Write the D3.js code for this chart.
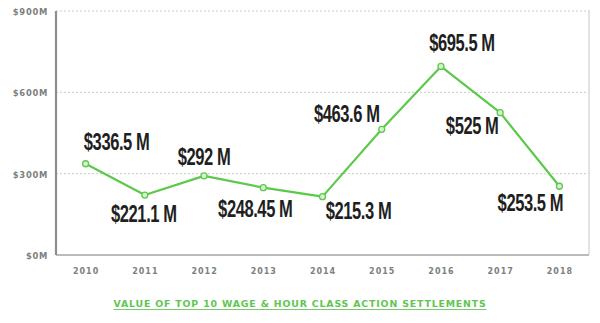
<!DOCTYPE html>
<html>
<head>
<meta charset="utf-8">
<script src="https://cdn.jsdelivr.net/npm/d3@7/dist/d3.min.js"></script>
<style>
  html, body { margin: 0; padding: 0; background: #ffffff; }
  svg { display: block; }
</style>
</head>
<body>
<script>
// Settlement values by year, in millions of dollars
const years = ["2010", "2011", "2012", "2013", "2014", "2015", "2016", "2017", "2018"];
const values = [336.5, 221.1, 292, 248.45, 215.3, 463.6, 695.5, 525, 253.5];
const valueLabels = ["$336.5 M", "$221.1 M", "$292 M", "$248.45 M", "$215.3 M", "$463.6 M", "$695.5 M", "$525 M", "$253.5 M"];
const yTicks = [0, 300, 600, 900];
const yTickLabels = ["$0M", "$300M", "$600M", "$900M"];
const title = "VALUE OF TOP 10 WAGE & HOUR CLASS ACTION SETTLEMENTS";

// Where each value label sits relative to its point: [dx of label centre, dy of baseline]
const labelPlacement = [
  [31, -14], [-1, 27], [0, -11], [-8, 29], [36, 22], [-35, -7], [21, -15], [-28, 21], [-29, 25]
];

const W = 600, H = 323;
const margin = { top: 11, right: 11, bottom: 68, left: 56 };

const svg = d3.select("body").append("svg")
  .attr("width", W).attr("height", H);

const x = d3.scalePoint()
  .domain(years)
  .range([margin.left, W - margin.right])
  .padding(0.5);

const y = d3.scaleLinear()
  .domain([0, 900])
  .range([H - margin.bottom, margin.top]);

const green = "#5cc94a";
const axisGrey = "#8c8f8f";
const labelFont = "'DejaVu Sans', sans-serif";

// Dotted horizontal gridlines
svg.append("g")
  .selectAll("line")
  .data(yTicks.filter(d => d > 0))
  .join("line")
  .attr("x1", margin.left)
  .attr("x2", W - margin.right)
  .attr("y1", d => y(d))
  .attr("y2", d => y(d))
  .attr("stroke", "#c9cbcb")
  .attr("stroke-width", 1)
  .attr("stroke-dasharray", "2,2");

// Right frame edge
svg.append("line")
  .attr("x1", W - margin.right).attr("x2", W - margin.right)
  .attr("y1", y(900) - 1).attr("y2", y(0))
  .attr("stroke", "#d8dada").attr("stroke-width", 1.5);

// Bottom axis line
svg.append("line")
  .attr("x1", margin.left).attr("x2", W - margin.right)
  .attr("y1", y(0)).attr("y2", y(0))
  .attr("stroke", "#a3a6a6").attr("stroke-width", 1.5);

// Left axis with dollar tick labels
const yAxis = d3.axisLeft(y)
  .tickValues(yTicks)
  .tickSize(0)
  .tickPadding(8)
  .tickFormat((d, i) => yTickLabels[i]);

const gy = svg.append("g")
  .attr("transform", `translate(${margin.left},0)`)
  .call(yAxis);
gy.select(".domain")
  .attr("stroke", axisGrey)
  .attr("stroke-width", 2.2)
  .attr("d", `M0,${y(900)}V${y(0)}`);
gy.selectAll("text")
  .attr("fill", "#7d8080")
  .style("font-family", labelFont)
  .style("font-weight", "bold")
  .style("font-size", "8.4px")
  .style("letter-spacing", "0.7px")
  .attr("dy", "0.4em");

// Bottom year labels
const xAxis = d3.axisBottom(x).tickSize(0).tickPadding(13);
const gx = svg.append("g")
  .attr("transform", `translate(0,${y(0)})`)
  .call(xAxis);
gx.select(".domain").remove();
gx.selectAll("text")
  .attr("fill", "#7d8080")
  .style("font-family", labelFont)
  .style("font-weight", "bold")
  .style("font-size", "8px")
  .style("letter-spacing", "1px");

// Settlement trend line
const line = d3.line()
  .x((d, i) => x(years[i]))
  .y(d => y(d));

svg.append("path")
  .datum(values)
  .attr("fill", "none")
  .attr("stroke", green)
  .attr("stroke-width", 2.2)
  .attr("stroke-linejoin", "round")
  .attr("d", line);

// Point markers
svg.append("g")
  .selectAll("circle")
  .data(values)
  .join("circle")
  .attr("cx", (d, i) => x(years[i]))
  .attr("cy", d => y(d))
  .attr("r", 3)
  .attr("fill", "#d9f2d4")
  .attr("stroke", green)
  .attr("stroke-width", 1.3);

// Value labels, in a condensed heavy face
svg.append("g")
  .selectAll("text")
  .data(values)
  .join("text")
  .attr("transform", (d, i) => {
    const px = x(years[i]) + labelPlacement[i][0];
    const py = y(d) + labelPlacement[i][1];
    return `translate(${px},${py}) scale(0.72,1)`;
  })
  .attr("text-anchor", "middle")
  .attr("fill", "#1f1f1f")
  .style("font-family", "'Liberation Sans', Arial, sans-serif")
  .style("font-weight", "bold")
  .style("font-size", "23px")
  .style("letter-spacing", "-0.6px")
  .text((d, i) => valueLabels[i]);

// Caption
const caption = svg.append("text")
  .attr("x", 300)
  .attr("y", 306.5)
  .attr("text-anchor", "middle")
  .attr("fill", "#62c552")
  .style("font-family", labelFont)
  .style("font-weight", "bold")
  .style("font-size", "9.4px")
  .style("letter-spacing", "0.83px")
  .text(title);

const bb = caption.node().getBBox();
svg.append("line")
  .attr("x1", bb.x).attr("x2", bb.x + bb.width)
  .attr("y1", 309.5).attr("y2", 309.5)
  .attr("stroke", "#62c552")
  .attr("stroke-width", 0.9);
</script>
</body>
</html>
